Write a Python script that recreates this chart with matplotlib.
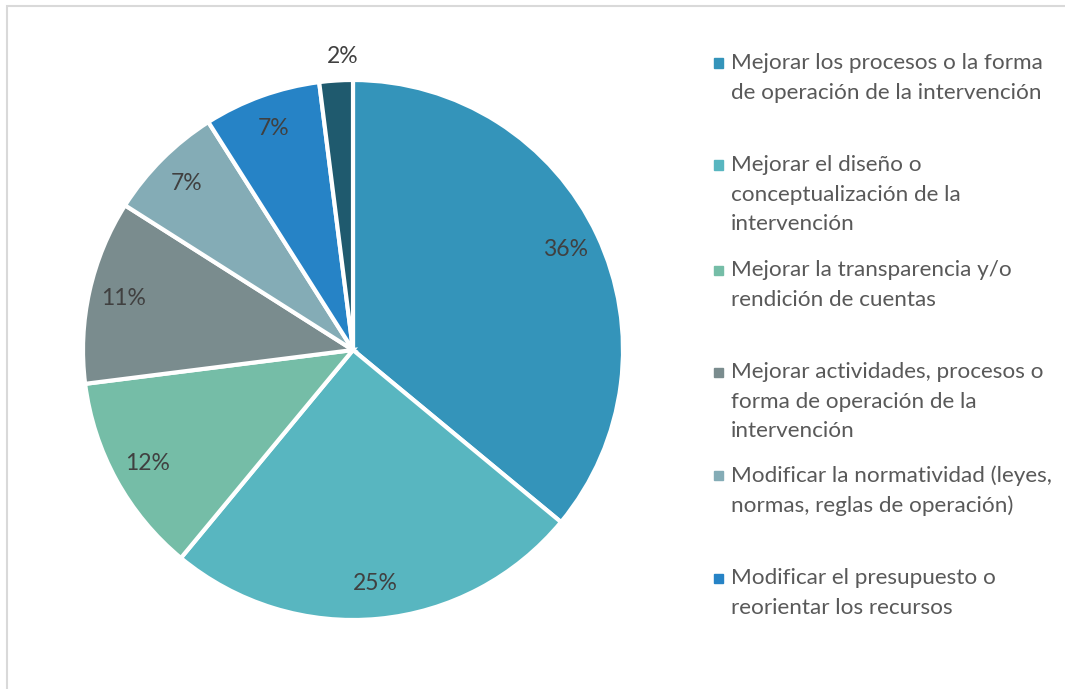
import matplotlib
matplotlib.use("Agg")
import matplotlib.pyplot as plt
from matplotlib.patches import Rectangle

plt.rcParams['font.family'] = ['Lato', 'DejaVu Sans']

values = [36, 25, 12, 11, 7, 7, 2]
pct_labels = ["36%", "25%", "12%", "11%", "7%", "7%", "2%"]
legend_labels = [
    "Mejorar los procesos o la forma\nde operación de la intervención",
    "Mejorar el diseño o\nconceptualización de la\nintervención",
    "Mejorar la transparencia y/o\nrendición de cuentas",
    "Mejorar actividades, procesos o\nforma de operación de la\nintervención",
    "Modificar la normatividad (leyes,\nnormas, reglas de operación)",
    "Modificar el presupuesto o\nreorientar los recursos",
]
colors = ["#3494BA", "#58B6C0", "#75BDA7", "#7A8C8E", "#84ACB6", "#2683C6", "#1F5A6E"]

W, H = 1065, 689
fig = plt.figure(figsize=(W / 100, H / 100), dpi=100)

# outer border (only left/top visible)
fig.patches.append(Rectangle((6.5 / W, -0.1), 1.2, (H - 5.5) / H + 0.1,
                             transform=fig.transFigure, fill=False,
                             edgecolor="#D9D9D9", linewidth=1.5))

cx, cy, r = 353, 350, 270
ax = fig.add_axes([(cx - r) / W, (H - cy - r) / H, 2 * r / W, 2 * r / H])
wedges, texts = ax.pie(values, colors=colors, startangle=90, counterclock=False,
                       wedgeprops=dict(edgecolor="white", linewidth=3),
                       labels=pct_labels, labeldistance=0.87,
                       textprops=dict(color="#404040", fontsize=16.5))
x7, y7 = texts[-1].get_position()
texts[-1].set_position((x7 / 0.87 * 1.08 + 0.03, y7 / 0.87 * 1.08 + 0.01))
for t in texts:
    t.set_ha("center")
    t.set_va("center")
ax.set_xlim(-1, 1)
ax.set_ylim(-1, 1)
ax.axis("off")

# legend
ys = [63, 165, 270, 372, 475, 578]
for lab, col, y in zip(legend_labels, colors, ys):
    fig.patches.append(Rectangle((714 / W, 1 - (y + 4.5) / H), 9 / W, 9 / H,
                                 transform=fig.transFigure, color=col))
    fig.text(731 / W, 1 - (y - 10) / H, lab, ha="left", va="top",
             fontsize=16.2, color="#595959", linespacing=1.6)

fig.savefig("out.png", dpi=100)
